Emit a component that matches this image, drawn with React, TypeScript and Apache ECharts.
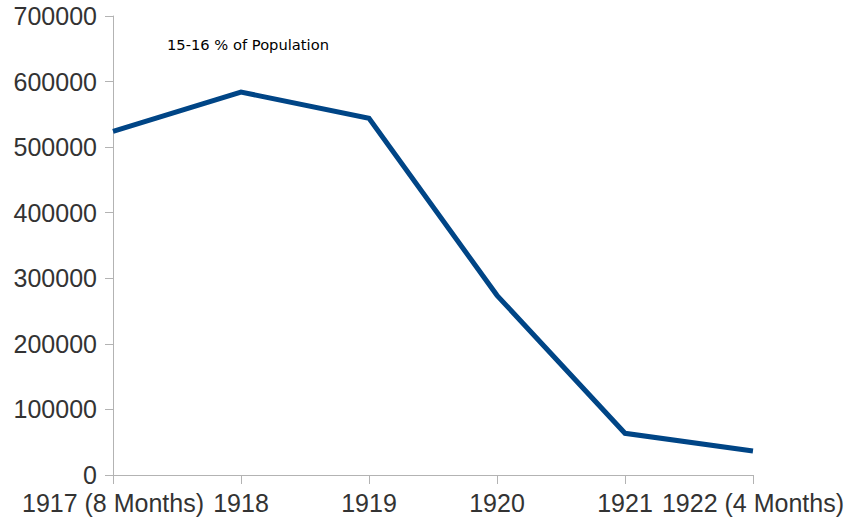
import React, { useEffect, useRef } from "react";
import * as echarts from "echarts";

const categories = ["1917 (8 Months)", "1918", "1919", "1920", "1921", "1922 (4 Months)"];
const values = [524000, 584000, 544000, 274000, 63600, 36600];
const yTicks = { min: 0, max: 700000, interval: 100000 };
const annotation = "15-16 % of Population";

export default function App() {
  const ref = useRef<HTMLDivElement>(null);
  useEffect(() => {
    const chart = echarts.init(ref.current!, null, { renderer: "svg" });
    chart.setOption({
      animation: false,
      backgroundColor: "#ffffff",
      title: {
        text: annotation,
        left: 167,
        top: 37,
        padding: 0,
        textStyle: { fontFamily: "DejaVu Sans", fontSize: 14.7, fontWeight: "normal", color: "#000000" },
      },
      grid: { left: 113, right: 94, top: 16, bottom: 48, containLabel: false },
      xAxis: {
        type: "category",
        data: categories,
        boundaryGap: false,
        axisLine: { show: true, lineStyle: { color: "#b3b3b3", width: 1 } },
        axisTick: { show: true, length: 9, inside: false, lineStyle: { color: "#b3b3b3" } },
        axisLabel: {
          margin: 15,
          fontFamily: "Liberation Sans",
          fontSize: 25,
          color: "#333333",
          interval: 0,
          hideOverlap: false,
        },
        splitLine: { show: false },
      },
      yAxis: {
        type: "value",
        min: yTicks.min,
        max: yTicks.max,
        interval: yTicks.interval,
        axisLine: { show: true, lineStyle: { color: "#b3b3b3", width: 1 } },
        axisTick: { show: true, length: 8, lineStyle: { color: "#b3b3b3" } },
        axisLabel: {
          margin: 16,
          fontFamily: "Liberation Sans",
          fontSize: 25,
          color: "#333333",
          formatter: (v: number) => String(v),
        },
        splitLine: { show: false },
      },
      series: [
        {
          type: "line",
          data: values,
          symbol: "none",
          lineStyle: { color: "#004586", width: 5, join: "miter" },
          itemStyle: { color: "#004586" },
        },
      ],
    });
    return () => chart.dispose();
  }, []);
  return <div ref={ref} style={{ width: 847, height: 523, position: "absolute", left: 0, top: 0 }} />;
}
